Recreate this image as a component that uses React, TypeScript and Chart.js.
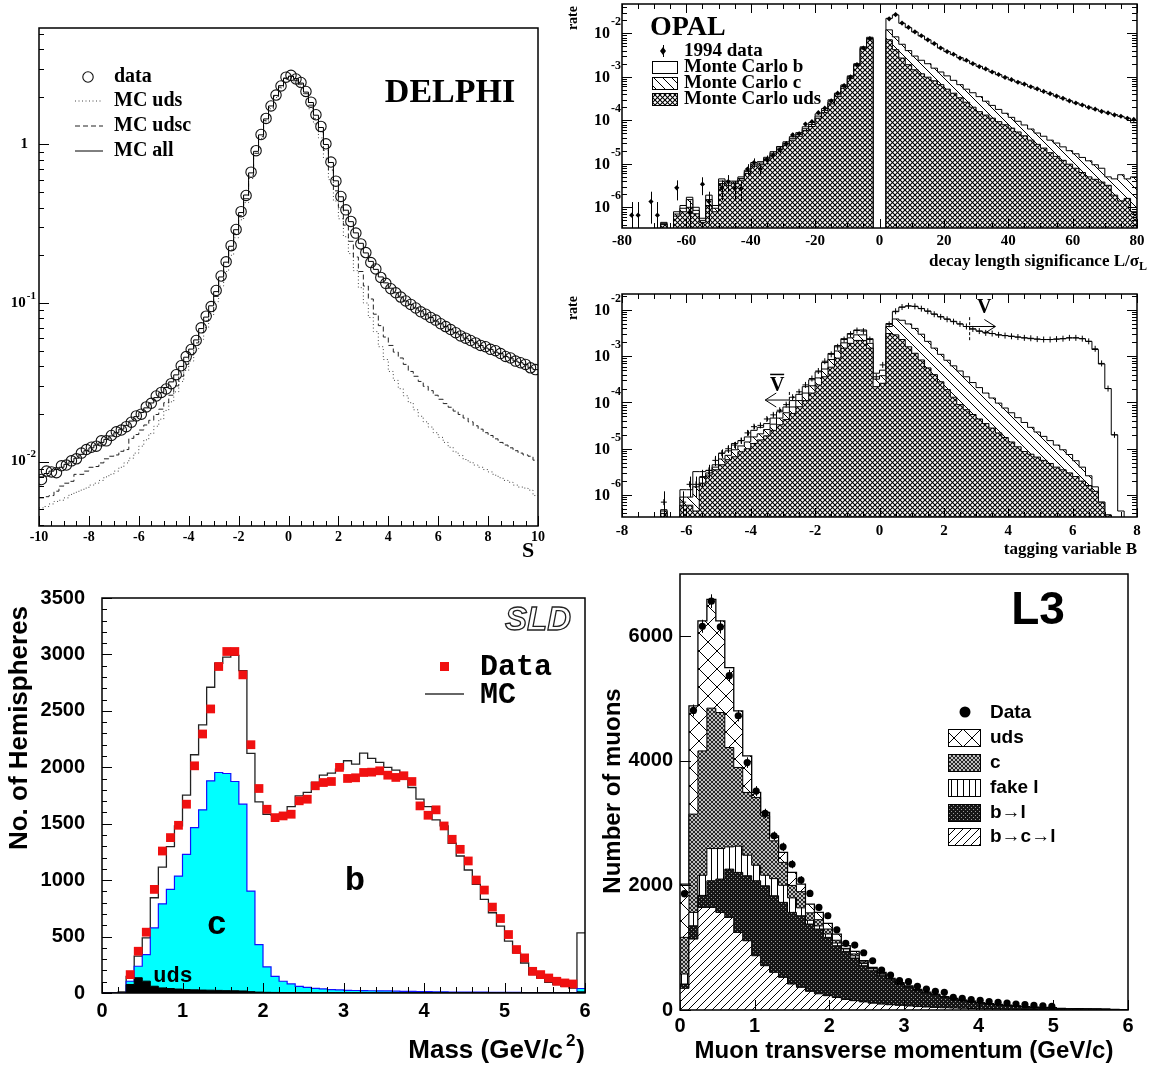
import React, { useEffect, useRef } from 'react';
import { Chart, registerables } from 'chart.js';

Chart.register(...registerables);

const SERIF = '"Liberation Serif", "DejaVu Serif", serif';
const SANS = '"Liberation Sans", Arial, sans-serif';
const MONO = '"Liberation Mono", "DejaVu Sans Mono", monospace';

// ---------------- DELPHI : impact parameter significance S ----------------
const delphiLo = -10;
const delphiBin = 0.2;
const delphiData = [
  0.0077, 0.0087, 0.0086, 0.0085, 0.0094, 0.0095, 0.0101, 0.0104, 0.0113, 0.0119,
  0.0123, 0.0125, 0.0135, 0.0135, 0.0146, 0.0154, 0.0158, 0.0166, 0.0177, 0.0194,
  0.0199, 0.0221, 0.0233, 0.0259, 0.0273, 0.0287, 0.031, 0.0353, 0.0402, 0.0459,
  0.0509, 0.058, 0.0697, 0.0826, 0.095, 0.12, 0.148, 0.182, 0.23, 0.291,
  0.377, 0.477, 0.669, 0.914, 1.156, 1.46, 1.75, 2.05, 2.34, 2.66,
  2.73, 2.59, 2.46, 2.16, 1.85, 1.54, 1.3, 1.01, 0.775, 0.587,
  0.47, 0.387, 0.327, 0.276, 0.236, 0.208, 0.18, 0.164, 0.145, 0.133,
  0.123, 0.116, 0.109, 0.103, 0.098, 0.093, 0.088, 0.085, 0.081, 0.078,
  0.074, 0.071, 0.068, 0.065, 0.062, 0.06, 0.058, 0.056, 0.054, 0.053,
  0.051, 0.05, 0.048, 0.046, 0.045, 0.043, 0.042, 0.041, 0.039, 0.038,
];
const delphiMcAll = [
  0.008, 0.0084, 0.0087, 0.0089, 0.0092, 0.0096, 0.01, 0.0105, 0.0111, 0.0117,
  0.0122, 0.0127, 0.0132, 0.0138, 0.0145, 0.0152, 0.016, 0.0169, 0.018, 0.0192,
  0.0204, 0.0218, 0.0234, 0.0253, 0.0272, 0.0293, 0.0318, 0.0352, 0.0398, 0.0455,
  0.0512, 0.0585, 0.069, 0.0815, 0.096, 0.118, 0.146, 0.181, 0.228, 0.29,
  0.372, 0.48, 0.662, 0.905, 1.15, 1.45, 1.75, 2.04, 2.35, 2.62,
  2.7, 2.61, 2.44, 2.14, 1.84, 1.53, 1.28, 1.0, 0.77, 0.59,
  0.468, 0.385, 0.326, 0.277, 0.238, 0.207, 0.183, 0.163, 0.146, 0.134,
  0.124, 0.116, 0.109, 0.103, 0.098, 0.093, 0.089, 0.085, 0.081, 0.077,
  0.074, 0.071, 0.068, 0.065, 0.063, 0.06, 0.058, 0.056, 0.054, 0.052,
  0.051, 0.049, 0.048, 0.046, 0.045, 0.043, 0.042, 0.041, 0.039, 0.038,
];
const delphiMcUdsc = [
  0.0059, 0.006, 0.0061, 0.0065, 0.007, 0.0073, 0.0075, 0.0083, 0.0083, 0.0087,
  0.0092, 0.0093, 0.0098, 0.0104, 0.0108, 0.011, 0.0116, 0.0119, 0.014, 0.0148,
  0.0158, 0.017, 0.0182, 0.0198, 0.0214, 0.0235, 0.0262, 0.03, 0.0345, 0.041,
  0.047, 0.056, 0.065, 0.077, 0.088, 0.11, 0.138, 0.17, 0.216, 0.275,
  0.356, 0.455, 0.64, 0.88, 1.12, 1.42, 1.71, 2.01, 2.3, 2.62,
  2.69, 2.54, 2.4, 2.09, 1.77, 1.45, 1.2, 0.92, 0.69, 0.51,
  0.4, 0.31, 0.245, 0.195, 0.158, 0.128, 0.106, 0.085, 0.072, 0.061,
  0.054, 0.049, 0.045, 0.041, 0.037, 0.0345, 0.032, 0.0298, 0.028, 0.0262,
  0.0247, 0.0232, 0.022, 0.0208, 0.0198, 0.0188, 0.0178, 0.0168, 0.016, 0.0152,
  0.0146, 0.0139, 0.0132, 0.0127, 0.0122, 0.0117, 0.0113, 0.011, 0.0108, 0.0102,
];
const delphiMcUds = [
  0.0051, 0.0052, 0.0054, 0.0056, 0.0057, 0.0059, 0.0062, 0.0064, 0.0066, 0.0068,
  0.0071, 0.0073, 0.0076, 0.008, 0.0083, 0.0087, 0.0092, 0.0098, 0.0105, 0.0113,
  0.0125, 0.0137, 0.015, 0.0167, 0.0185, 0.021, 0.0238, 0.0275, 0.032, 0.0375,
  0.043, 0.0505, 0.059, 0.07, 0.083, 0.102, 0.128, 0.158, 0.2, 0.258,
  0.335, 0.43, 0.61, 0.85, 1.09, 1.39, 1.68, 1.98, 2.27, 2.58,
  2.65, 2.48, 2.33, 2.01, 1.68, 1.35, 1.1, 0.82, 0.6, 0.44,
  0.34, 0.262, 0.205, 0.16, 0.125, 0.1, 0.081, 0.066, 0.053, 0.044,
  0.037, 0.0325, 0.0288, 0.026, 0.0235, 0.0212, 0.0193, 0.0178, 0.0165, 0.0152,
  0.0142, 0.0132, 0.0123, 0.0115, 0.0109, 0.0103, 0.0099, 0.0095, 0.0092, 0.0089,
  0.0086, 0.0082, 0.0079, 0.0076, 0.0074, 0.0071, 0.0069, 0.0068, 0.0066, 0.0061,
];
const delphiXTicks = [-10, -8, -6, -4, -2, 0, 2, 4, 6, 8, 10];
const delphiYDecades = [0, -1, -2];

// ---------------- OPAL : decay length significance L/sigma_L ----------------
const opalLLo = -80;
const opalLBin = 2;
// stacked tops: b + c + uds, c + uds, uds
const opalLTopB = [
  0, 0, 0, 0, 0, 0, 4.5e-7, 0, 7.9e-7, 1.1e-6,
  1.7e-6, 1.0e-6, 5.6e-7, 1.9e-6, 1.1e-6, 4.5e-6, 4.0e-6, 4.0e-6, 5.0e-6, 7.1e-6,
  1.07e-5, 1.12e-5, 1.41e-5, 1.9e-5, 2.5e-5, 3.2e-5, 4.2e-5, 5.2e-5, 7.1e-5, 8.9e-5,
  1.41e-4, 1.86e-4, 2.95e-4, 4.2e-4, 6.5e-4, 1.05e-3, 2.0e-3, 4.9e-3, 8.1e-3, 0,
  0, 0.0221, 0.0265, 0.017, 0.0135, 0.0107, 0.0087, 0.0071, 0.00575, 0.00457,
  0.0038, 0.00324, 0.00275, 0.00234, 0.002, 0.00174, 0.00151, 0.0013, 0.00112, 0.00098,
  0.00085, 0.00076, 0.00067, 0.00059, 0.00052, 0.00046, 0.00041, 0.00036, 0.00032, 0.00028,
  0.00025, 0.000224, 0.0002, 0.00018, 0.000162, 0.000148, 0.000135, 0.000123, 0.000112, 0.000088,
];
const opalLTopC = [
  0, 0, 0, 0, 0, 0, 4.2e-7, 0, 7.0e-7, 9.5e-7,
  1.5e-6, 8.5e-7, 5.0e-7, 1.5e-6, 9.5e-7, 4.0e-6, 3.6e-6, 3.8e-6, 4.6e-6, 6.6e-6,
  9.8e-6, 1.04e-5, 1.3e-5, 1.75e-5, 2.3e-5, 2.95e-5, 3.85e-5, 4.75e-5, 6.4e-5, 8.0e-5,
  1.25e-4, 1.67e-4, 2.65e-4, 3.85e-4, 6.0e-4, 9.8e-4, 1.9e-3, 4.65e-3, 7.6e-3, 0,
  0, 1.2e-2, 8.3e-3, 5.6e-3, 4.0e-3, 3.0e-3, 2.4e-3, 2.0e-3, 1.58e-3, 1.29e-3,
  1.05e-3, 8.3e-4, 6.6e-4, 5.2e-4, 4.3e-4, 3.5e-4, 2.75e-4, 2.2e-4, 1.78e-4, 1.45e-4,
  1.17e-4, 9.5e-5, 7.8e-5, 6.3e-5, 5.1e-5, 4.3e-5, 3.5e-5, 3.0e-5, 2.45e-5, 2.0e-5,
  1.7e-5, 1.4e-5, 1.17e-5, 9.5e-6, 7.9e-6, 5.0e-6, 4.5e-6, 5.6e-6, 4.5e-6, 5.0e-6,
];
const opalLTopUds = [
  0, 0, 0, 0, 0, 0, 4.0e-7, 0, 6.3e-7, 7.9e-7,
  1.0e-6, 7.1e-7, 4.5e-7, 1.1e-6, 7.9e-7, 3.5e-6, 3.2e-6, 3.5e-6, 4.2e-6, 6.0e-6,
  8.9e-6, 9.5e-6, 1.2e-5, 1.6e-5, 2.1e-5, 2.7e-5, 3.5e-5, 4.3e-5, 5.8e-5, 7.2e-5,
  1.12e-4, 1.5e-4, 2.4e-4, 3.5e-4, 5.5e-4, 9.1e-4, 1.8e-3, 4.4e-3, 7.1e-3, 0,
  0, 7.1e-3, 4.2e-3, 2.7e-3, 1.9e-3, 1.45e-3, 1.17e-3, 9.8e-4, 8.1e-4, 6.6e-4,
  5.2e-4, 4.2e-4, 3.3e-4, 2.6e-4, 2.0e-4, 1.58e-4, 1.32e-4, 1.12e-4, 9.3e-5, 7.9e-5,
  6.6e-5, 5.4e-5, 4.4e-5, 3.5e-5, 2.8e-5, 2.3e-5, 1.8e-5, 1.48e-5, 1.2e-5, 9.8e-6,
  7.9e-6, 6.3e-6, 5.0e-6, 4.4e-6, 3.8e-6, 3.2e-6, 1.9e-6, 1.4e-6, 1.6e-6, 7.9e-7,
];
const opalLData = [
  0, 6.6e-7, 6.6e-7, 0, 1.35e-6, 6.6e-7, 0, 0, 2.8e-6, 0,
  7.6e-7, 0, 3.4e-6, 1.35e-6, 0, 2.8e-6, 3.9e-6, 2.7e-6, 2.7e-6, 7.6e-6,
  1.07e-5, 7.6e-6, 1.26e-5, 1.58e-5, 2.1e-5, 2.9e-5, 4.6e-5, 4.9e-5, 8.2e-5, 9.3e-5,
  1.5e-4, 1.9e-4, 2.8e-4, 4.2e-4, 6.3e-4, 1.0e-3, 1.9e-3, 4.6e-3, 7.6e-3, 0,
  0, 0.0215, 0.027, 0.0172, 0.0137, 0.0108, 0.0088, 0.0071, 0.0058, 0.0046,
  0.0038, 0.0033, 0.0027, 0.0024, 0.002, 0.00172, 0.00152, 0.00129, 0.00113, 0.00097,
  0.00086, 0.00075, 0.00068, 0.00059, 0.00053, 0.00046, 0.00041, 0.00036, 0.00032, 0.00028,
  0.00025, 0.000225, 0.000198, 0.00018, 0.00016, 0.000148, 0.000133, 0.000124, 0.000111, 0.000105,
];
const opalLErr = [
  0, 6.6e-7, 6.6e-7, 0, 9.3e-7, 6.6e-7, 0, 0, 1.36e-6, 0,
  6.6e-7, 0, 1.5e-6, 9.3e-7, 0, 1.36e-6, 1.6e-6, 1.3e-6, 1.3e-6, 2.2e-6,
  2.6e-6, 2.2e-6, 2.9e-6, 3.2e-6, 3.7e-6, 4.4e-6, 5.5e-6, 5.7e-6, 7.4e-6, 7.8e-6,
  1.0e-5, 1.1e-5, 1.4e-5, 1.7e-5, 2.0e-5, 2.6e-5, 3.5e-5, 5.5e-5, 7.0e-5,
];
const opalLXTicks = [-80, -60, -40, -20, 0, 20, 40, 60, 80];
const opalDecades = [-2, -3, -4, -5, -6];

// ---------------- OPAL : tagging variable B ----------------
const opalBLo = -8;
const opalBBin = 0.2;
const opalBTopB = [
  0, 0, 0, 0, 0, 0, 4.8e-7, 0, 0, 1.3e-6,
  1.3e-6, 3.2e-6, 3.2e-6, 3.4e-6, 4.5e-6, 8e-6, 9e-6, 1.3e-5, 1.5e-5, 1.8e-5,
  2.5e-5, 2.9e-5, 3.5e-5, 4.6e-5, 6.3e-5, 8.0e-5, 1.1e-4, 1.5e-4, 2.2e-4, 3.1e-4,
  4.6e-4, 7.3e-4, 1.15e-3, 1.7e-3, 2.4e-3, 3.1e-3, 3.7e-3, 3.7e-3, 2.4e-3, 4.3e-4,
  5.0e-4, 5.1e-3, 9.2e-3, 1.15e-2, 1.22e-2, 1.2e-2, 1.08e-2, 9.5e-3, 8.2e-3, 7.2e-3,
  6.4e-3, 5.7e-3, 5.0e-3, 4.4e-3, 3.9e-3, 3.5e-3, 3.3e-3, 3.1e-3, 2.9e-3, 2.8e-3,
  2.7e-3, 2.6e-3, 2.5e-3, 2.4e-3, 2.35e-3, 2.3e-3, 2.3e-3, 2.35e-3, 2.4e-3, 2.5e-3,
  2.5e-3, 2.4e-3, 2.1e-3, 1.4e-3, 6.8e-4, 2.0e-4, 2.0e-5, 4.5e-7, 0, 0,
];
const opalBTopC = [
  0, 0, 0, 0, 0, 0, 4.5e-7, 0, 0, 9e-7,
  9e-7, 1.5e-6, 2.4e-6, 3.0e-6, 4.0e-6, 6.0e-6, 7.2e-6, 9.5e-6, 1.15e-5, 1.4e-5,
  1.8e-5, 2.1e-5, 2.6e-5, 3.4e-5, 4.6e-5, 6.0e-5, 8.0e-5, 1.1e-4, 1.6e-4, 2.3e-4,
  3.4e-4, 5.3e-4, 8.5e-4, 1.3e-3, 1.95e-3, 2.5e-3, 2.9e-3, 2.9e-3, 1.9e-3, 3.2e-4,
  3.8e-4, 4.4e-3, 6.4e-3, 6.0e-3, 5.0e-3, 4.0e-3, 3.0e-3, 2.1e-3, 1.5e-3, 1.1e-3,
  8.2e-4, 6.2e-4, 4.8e-4, 3.6e-4, 2.7e-4, 2.1e-4, 1.6e-4, 1.25e-4, 9.7e-5, 7.6e-5,
  6.0e-5, 4.7e-5, 3.7e-5, 2.9e-5, 2.3e-5, 1.85e-5, 1.5e-5, 1.2e-5, 9.5e-6, 7.5e-6,
  5.5e-6, 4.0e-6, 2.6e-6, 1.5e-6, 7e-7, 3.7e-7, 0, 0, 0, 0,
];
const opalBTopUds = [
  0, 0, 0, 0, 0, 0, 4.0e-7, 0, 0, 6e-7,
  6e-7, 4.5e-7, 1.8e-6, 2.7e-6, 3.5e-6, 4.5e-6, 5.8e-6, 6.7e-6, 8.6e-6, 1.0e-5,
  1.3e-5, 1.55e-5, 1.9e-5, 2.5e-5, 3.3e-5, 4.3e-5, 5.8e-5, 8.1e-5, 1.1e-4, 1.6e-4,
  2.4e-4, 3.6e-4, 5.8e-4, 9.1e-4, 1.5e-3, 1.9e-3, 2.2e-3, 2.2e-3, 1.5e-3, 2.2e-4,
  2.6e-4, 3.1e-3, 2.9e-3, 2.3e-3, 1.6e-3, 1.16e-3, 8.3e-4, 5.6e-4, 4.0e-4, 2.8e-4,
  1.9e-4, 1.3e-4, 9.0e-5, 7.0e-5, 5.5e-5, 4.4e-5, 3.5e-5, 2.8e-5, 2.2e-5, 1.75e-5,
  1.4e-5, 1.1e-5, 8.7e-6, 7.6e-6, 6.6e-6, 5.6e-6, 4.8e-6, 4.0e-6, 3.5e-6, 3.0e-6,
  2.5e-6, 2.0e-6, 1.6e-6, 1.2e-6, 7e-7, 3.7e-7, 0, 0, 0, 0,
];
const opalBData = [
  0, 0, 0, 0, 0, 0, 7e-7, 0, 0, 7e-7,
  1.7e-6, 1.7e-6, 2.5e-6, 3.4e-6, 5.6e-6, 8e-6, 1.0e-5, 1.2e-5, 1.5e-5, 2.2e-5,
  3.0e-5, 3.2e-5, 4.4e-5, 5.4e-5, 6.8e-5, 9.0e-5, 1.3e-4, 1.7e-4, 2.4e-4, 3.3e-4,
  4.8e-4, 7.8e-4, 1.1e-3, 1.6e-3, 2.3e-3, 3.0e-3, 3.6e-3, 3.5e-3, 2.3e-3, 3.6e-4,
  6.5e-4, 4.9e-3, 9.4e-3, 1.16e-2, 1.23e-2, 1.2e-2, 1.07e-2, 9.4e-3, 8.1e-3, 7.1e-3,
  6.3e-3, 5.6e-3, 5.0e-3, 4.4e-3, 3.9e-3, 3.5e-3, 3.2e-3, 3.1e-3, 2.9e-3, 2.8e-3,
  2.7e-3, 2.6e-3, 2.5e-3, 2.45e-3, 2.35e-3, 2.3e-3, 2.3e-3, 2.35e-3, 2.4e-3, 2.5e-3,
  2.5e-3, 2.4e-3, 2.1e-3, 1.45e-3, 7.0e-4, 2.0e-4, 2.0e-5, 0, 0, 0,
];
const opalBErr = [
  0, 0, 0, 0, 0, 0, 5e-7, 0, 0, 5e-7,
  8e-7, 8e-7, 1.0e-6, 1.1e-6, 1.4e-6, 1.7e-6, 1.9e-6, 2.1e-6, 2.3e-6, 2.8e-6,
  3.2e-6, 3.3e-6, 3.9e-6, 4.3e-6, 4.8e-6, 5.5e-6, 6.6e-6, 7.5e-6, 9e-6,
];
const opalBXTicks = [-8, -6, -4, -2, 0, 2, 4, 6, 8];
const opalVCut = 2.8;
const opalVbarCut = -2.8;

// ---------------- SLD : vertex mass ----------------
const sldLo = 0;
const sldBin = 0.1;
const sldMC = [
  0, 0, 10, 148, 326, 489, 844, 1116, 1297, 1480,
  1753, 2111, 2375, 2709, 2922, 2976, 2991, 2857, 2123, 1694,
  1584, 1575, 1584, 1652, 1747, 1777, 1865, 1931, 1948, 1984,
  2058, 2028, 2126, 2079, 2043, 1999, 1975, 1895, 1821, 1717,
  1652, 1534, 1480, 1327, 1214, 1090, 962, 829, 711, 592,
  459, 355, 266, 163, 133, 95, 74, 59, 44, 533,
];
const sldCharm = [
  0, 0, 0, 104, 237, 340, 577, 790, 918, 1036,
  1229, 1466, 1623, 1880, 1954, 1945, 1874, 1673, 903, 429,
  231, 148, 104, 80, 59, 50, 41, 36, 30, 27,
  24, 22, 21, 20, 19, 18, 16, 15, 14, 13,
  12, 11, 10, 9, 9, 8, 7, 7, 6, 6,
  5, 5, 4, 4, 4, 3, 3, 3, 3, 40,
];
const sldUds = [
  0, 0, 0, 75, 135, 105, 60, 45, 40, 35,
  30, 28, 26, 25, 23, 21, 20, 18, 12, 8,
  6, 5, 4, 4, 3, 3, 2, 2, 2, 2,
  2, 2, 2, 2, 2, 2, 2, 2, 2, 2,
  2, 2, 2, 2, 2, 2, 2, 2, 2, 2,
  2, 2, 2, 2, 2, 2, 2, 2, 2, 10,
];
const sldDataLo = 0.3;
const sldData = [
  163, 370, 539, 918, 1258, 1377, 1486, 1673, 2013, 2295,
  2517, 2893, 3026, 3026, 2819, 2200, 1812, 1628, 1554, 1569,
  1584, 1703, 1717, 1836, 1865, 1874, 1999, 1901, 1907, 1954,
  1957, 1969, 1930, 1910, 1925, 1874, 1658, 1575, 1623, 1480,
  1362, 1273, 1170, 1001, 912, 761, 660, 518, 385, 311,
  192, 163, 133, 104, 89, 80,
];
const sldYTicks = [0, 500, 1000, 1500, 2000, 2500, 3000, 3500];
const sldXTicks = [0, 1, 2, 3, 4, 5, 6];

// ---------------- L3 : muon transverse momentum ----------------
const l3Lo = 0;
const l3Bin = 0.12;
const l3TopUds = [
  2021, 4882, 6246, 6594, 6246, 5498, 4802, 4080, 3493, 3172,
  2797, 2530, 2209, 2021, 1701, 1567, 1391, 1219, 1032, 941,
  791, 684, 604, 508, 440, 385, 330, 285, 252, 216,
  188, 160, 142, 120, 103, 88, 77, 66, 55, 47,
  40, 36, 26, 23, 20, 18, 16, 14, 9, 7,
];
const l3TopC = [
  1166, 3145, 4160, 4846, 4776, 4214, 3894, 3493, 3413, 3117,
  2716, 2370, 2000, 1900, 1560, 1450, 1300, 1120, 990, 900,
  770, 670, 590, 500, 428, 378, 322, 281, 248, 212,
  184, 157, 139, 117, 100, 84, 74, 63, 52, 44,
  37, 33, 24, 21, 18, 16, 14, 12, 8, 6,
];
const l3TopFake = [
  578, 1567, 2163, 2592, 2592, 2619, 2630, 2485, 2324, 2163,
  2109, 2002, 1800, 1640, 1440, 1350, 1220, 1075, 980, 870,
  745, 660, 575, 492, 422, 374, 318, 277, 244, 208,
  181, 154, 137, 115, 98, 82, 72, 61, 50, 42,
  35, 31, 23, 20, 17, 15, 13, 11, 7, 5,
];
const l3TopBl = [
  417, 1352, 1840, 2075, 2102, 2262, 2209, 2155, 2075, 1994,
  1834, 1728, 1567, 1513, 1380, 1300, 1166, 1032, 941, 834,
  711, 631, 551, 471, 410, 364, 310, 270, 238, 203,
  177, 150, 134, 112, 96, 80, 70, 59, 48, 40,
  34, 30, 22, 19, 16, 14, 12, 11, 6, 5,
];
const l3TopBcl = [
  348, 1139, 1647, 1647, 1567, 1487, 1246, 1112, 871, 711,
  605, 524, 417, 364, 300, 260, 230, 200, 170, 150,
  130, 110, 95, 85, 75, 65, 55, 48, 42, 36,
  32, 28, 24, 20, 17, 15, 13, 11, 9, 8,
  7, 6, 5, 4, 4, 3, 3, 2, 2, 2,
];
const l3Data = [
  1868, 4809, 6161, 6564, 6150, 5367, 4723, 3972, 3515, 3156,
  2796, 2619, 2340, 2086, 1872, 1647, 1513, 1288, 1070, 1043,
  919, 791, 642, 562, 471, 455, 380, 337, 299, 283,
  203, 187, 166, 155, 134, 123, 112, 95, 85, 75,
  65, 60,
];
const l3Err = [
  60, 95, 105, 110, 105, 95, 90, 85, 80, 75,
  70, 68, 65, 62, 58, 55, 52, 48, 44, 43,
  40, 38, 34, 32, 30, 29, 27, 25, 23, 23,
  20, 19, 18, 17, 16, 15, 14, 13, 12, 12,
  11, 10,
];
const l3YTicks = [0, 2000, 4000, 6000];
const l3XTicks = [0, 1, 2, 3, 4, 5, 6];

// ---------------- helpers ----------------
type Ctx = CanvasRenderingContext2D;
type Area = { left: number; right: number; top: number; bottom: number };
type Decorate = (ctx: Ctx, a: Area, X: (v: number) => number, Y: (v: number) => number) => void;

function text(ctx: Ctx, s: string, x: number, y: number, font: string,
  align: CanvasTextAlign = 'left', baseline: CanvasTextBaseline = 'alphabetic', color = '#000') {
  ctx.save();
  ctx.font = font;
  ctx.textAlign = align;
  ctx.textBaseline = baseline;
  ctx.fillStyle = color;
  ctx.fillText(s, x, y);
  ctx.restore();
}

function vtext(ctx: Ctx, s: string, x: number, y: number, font: string, align: CanvasTextAlign) {
  ctx.save();
  ctx.translate(x, y);
  ctx.rotate(-Math.PI / 2);
  ctx.font = font;
  ctx.textAlign = align;
  ctx.textBaseline = 'middle';
  ctx.fillStyle = '#000';
  ctx.fillText(s, 0, 0);
  ctx.restore();
}

function widthOf(ctx: Ctx, s: string, font: string) {
  ctx.save();
  ctx.font = font;
  const w = ctx.measureText(s).width;
  ctx.restore();
  return w;
}

function powerLabel(ctx: Ctx, exp: number, xRight: number, y: number, mainFont: string, supFont: string, rise: number) {
  const sup = String(exp);
  const w = widthOf(ctx, sup, supFont);
  text(ctx, sup, xRight, y - rise, supFont, 'right', 'middle');
  text(ctx, '10', xRight - w - 1, y, mainFont, 'right', 'middle');
}

function line(ctx: Ctx, x0: number, y0: number, x1: number, y1: number, dash: number[] = [], lw = 1, color = '#000') {
  ctx.save();
  ctx.strokeStyle = color;
  ctx.lineWidth = lw;
  ctx.setLineDash(dash);
  ctx.beginPath();
  ctx.moveTo(x0, y0);
  ctx.lineTo(x1, y1);
  ctx.stroke();
  ctx.restore();
}

function linTicks(from: number, to: number, step: number, skip = 0) {
  const out: number[] = [];
  const n = Math.round((to - from) / step);
  for (let i = 0; i <= n; i++) {
    const v = +(from + i * step).toFixed(6);
    if (skip && Math.abs(v / skip - Math.round(v / skip)) < 1e-6) continue;
    out.push(v);
  }
  return out;
}

function logMinorTicks(min: number, max: number) {
  const out: number[] = [];
  for (let e = Math.floor(Math.log10(min)); e <= Math.ceil(Math.log10(max)); e++) {
    for (let m = 2; m <= 9; m++) {
      const v = m * Math.pow(10, e);
      if (v >= min && v <= max) out.push(v);
    }
  }
  return out;
}

function logMajorTicks(min: number, max: number) {
  const out: number[] = [];
  for (let e = Math.floor(Math.log10(min)); e <= Math.ceil(Math.log10(max)); e++) {
    const v = Math.pow(10, e);
    if (v >= min && v <= max) out.push(v);
  }
  return out;
}

// histogram outline as a stepped line through the bin edges
function stepLine(lo: number, w: number, vals: number[], floor: number, style: any) {
  const pts = vals.map((v, i) => ({ x: lo + i * w, y: v > 0 ? v : floor }));
  pts.push({ x: lo + vals.length * w, y: pts[pts.length - 1].y });
  return {
    type: 'line', data: pts, stepped: true, pointRadius: 0, borderWidth: 1,
    borderColor: '#000', fill: false, ...style,
  };
}

// measured points at bin centres, with optional vertical errors
function markers(lo: number, w: number, vals: number[], style: any, errs?: number[]) {
  const pts: { x: number; y: number }[] = [];
  const e: number[] = [];
  vals.forEach((v, i) => {
    if (v > 0) {
      pts.push({ x: lo + (i + 0.5) * w, y: v });
      e.push(errs ? errs[i] ?? 0 : 0);
    }
  });
  return { type: 'line', data: pts, showLine: false, errors: e, ...style };
}

const errorBars = {
  id: 'errorBars',
  afterDatasetsDraw(chart: any) {
    const { ctx, chartArea: a } = chart;
    const sx = chart.scales.x;
    const sy = chart.scales.y;
    ctx.save();
    ctx.beginPath();
    ctx.rect(a.left, a.top, a.right - a.left, a.bottom - a.top);
    ctx.clip();
    chart.data.datasets.forEach((ds: any) => {
      if (!ds.errors) return;
      ctx.strokeStyle = ds.errorColor || '#000';
      ctx.lineWidth = 1;
      ctx.beginPath();
      ds.data.forEach((p: any, i: number) => {
        const err = ds.errors[i];
        if (!err) return;
        const x = Math.round(sx.getPixelForValue(p.x)) + 0.5;
        const hi = sy.getPixelForValue(p.y + err);
        const lo = p.y - err > 0 ? sy.getPixelForValue(p.y - err) : a.bottom;
        ctx.moveTo(x, hi);
        ctx.lineTo(x, lo);
      });
      ctx.stroke();
    });
    ctx.restore();
  },
};

type TickSpec = { major: number[]; minor: number[]; majorLen: number; minorLen: number; mirror?: boolean };

// frame, inward ticks, then labels placed in page coordinates (origin = canvas offset on the page)
function framePlugin(xs: TickSpec, ys: TickSpec, lw: number, ox: number, oy: number, decorate: Decorate) {
  return {
    id: 'rootFrame',
    afterDraw(chart: any) {
      const { ctx, chartArea: a } = chart;
      const sx = chart.scales.x;
      const sy = chart.scales.y;
      ctx.save();
      ctx.strokeStyle = '#000';
      ctx.lineWidth = 1;
      ctx.beginPath();
      const put = (list: number[], len: number, isX: boolean) => {
        for (const v of list) {
          if (isX) {
            const p = Math.round(sx.getPixelForValue(v)) + 0.5;
            ctx.moveTo(p, a.bottom);
            ctx.lineTo(p, a.bottom - len);
            if (xs.mirror) { ctx.moveTo(p, a.top); ctx.lineTo(p, a.top + len); }
          } else {
            const p = Math.round(sy.getPixelForValue(v)) + 0.5;
            ctx.moveTo(a.left, p);
            ctx.lineTo(a.left + len, p);
            if (ys.mirror) { ctx.moveTo(a.right, p); ctx.lineTo(a.right - len, p); }
          }
        }
      };
      put(xs.major, xs.majorLen, true);
      put(xs.minor, xs.minorLen, true);
      put(ys.major, ys.majorLen, false);
      put(ys.minor, ys.minorLen, false);
      ctx.stroke();
      ctx.lineWidth = lw;
      ctx.strokeRect(a.left, a.top, a.right - a.left, a.bottom - a.top);
      ctx.restore();
      ctx.save();
      ctx.translate(-ox, -oy);
      const area = { left: a.left + ox, right: a.right + ox, top: a.top + oy, bottom: a.bottom + oy };
      decorate(ctx, area, (v) => sx.getPixelForValue(v) + ox, (v) => sy.getPixelForValue(v) + oy);
      ctx.restore();
    },
  };
}

function makePattern(size: number, draw: (g: Ctx, s: number) => void, bg = '#fff') {
  const c = document.createElement('canvas');
  c.width = size;
  c.height = size;
  const g = c.getContext('2d')!;
  g.fillStyle = bg;
  g.fillRect(0, 0, size, size);
  g.strokeStyle = '#000';
  g.lineWidth = 1;
  draw(g, size);
  return g.createPattern(c, 'repeat')!;
}

function diagDown(g: Ctx, s: number) {
  g.beginPath();
  g.moveTo(-1, -1); g.lineTo(s + 1, s + 1);
  g.moveTo(-1, s - 1); g.lineTo(1, s + 1);
  g.moveTo(s - 1, -1); g.lineTo(s + 1, 1);
  g.stroke();
}
function diagUp(g: Ctx, s: number) {
  g.beginPath();
  g.moveTo(-1, s + 1); g.lineTo(s + 1, -1);
  g.moveTo(-1, 1); g.lineTo(1, -1);
  g.moveTo(s - 1, s + 1); g.lineTo(s + 1, s - 1);
  g.stroke();
}

function patterns() {
  return {
    opalUds: makePattern(5, (g, s) => { g.lineWidth = 1.1; diagDown(g, s); diagUp(g, s); }),
    opalC: makePattern(9, (g, s) => { g.lineWidth = 1; diagDown(g, s); }),
    l3Uds: makePattern(18, (g, s) => { diagDown(g, s); diagUp(g, s); }),
    l3C: makePattern(4, (g, s) => { g.strokeStyle = '#222'; g.lineWidth = 1.1; diagDown(g, s); diagUp(g, s); }),
    l3Fake: makePattern(6, (g, s) => { g.beginPath(); g.moveTo(3.5, 0); g.lineTo(3.5, s); g.stroke(); }),
    l3Bl: makePattern(4, (g) => { g.fillStyle = '#9a9a9a'; g.fillRect(1, 1, 1, 1); g.fillRect(3, 3, 1, 1); }, '#161616'),
    l3Bcl: makePattern(8, (g, s) => { diagUp(g, s); }),
  };
}

function baseOptions(pad: any, x: any, y: any) {
  return {
    responsive: false,
    animation: false,
    events: [],
    layout: { padding: pad },
    plugins: { legend: { display: false }, tooltip: { enabled: false } },
    scales: { x: { ...x, display: false }, y: { ...y, display: false } },
  };
}

// ---------------- chart builders ----------------
const FLOOR = 1e-12;

function buildDelphi() {
  const yMin = 0.00392;
  const yMax = 5.43;
  const decorate: Decorate = (ctx, a, X, Y) => {
    for (const v of delphiXTicks) text(ctx, String(v), X(v), a.bottom + 11, `bold 14px ${SERIF}`, 'center', 'middle');
    text(ctx, 'S', 528, 551, `bold 22px ${SERIF}`, 'center', 'middle');
    for (const e of delphiYDecades) {
      const y = Y(Math.pow(10, e));
      if (e === 0) text(ctx, '1', 28, y, `bold 15px ${SERIF}`, 'right', 'middle');
      else powerLabel(ctx, e, 36, y, `bold 15px ${SERIF}`, `bold 11px ${SERIF}`, 7);
    }
    const lf = `bold 20px ${SERIF}`;
    ctx.save();
    ctx.strokeStyle = '#111';
    ctx.lineWidth = 1.1;
    ctx.beginPath();
    ctx.arc(88, 77, 5.2, 0, Math.PI * 2);
    ctx.stroke();
    ctx.restore();
    text(ctx, 'data', 114, 77, lf, 'left', 'middle');
    line(ctx, 75, 101, 103, 101, [1, 2.5], 1, '#444');
    text(ctx, 'MC uds', 114, 101, lf, 'left', 'middle');
    line(ctx, 75, 126, 103, 126, [5, 3], 1, '#222');
    text(ctx, 'MC udsc', 114, 126, lf, 'left', 'middle');
    line(ctx, 75, 151, 103, 151, [], 1, '#000');
    text(ctx, 'MC all', 114, 151, lf, 'left', 'middle');
    text(ctx, 'DELPHI', 450, 93, `bold 34px ${SERIF}`, 'center', 'middle');
  };
  return {
    type: 'line',
    data: {
      datasets: [
        markers(delphiLo, delphiBin, delphiData, {
          pointStyle: 'circle', pointRadius: 5.2, pointBorderWidth: 1.1,
          pointBorderColor: '#111', pointBackgroundColor: 'rgba(255,255,255,0)',
        }),
        stepLine(delphiLo, delphiBin, delphiMcAll, FLOOR, { borderColor: '#000', borderWidth: 1 }),
        stepLine(delphiLo, delphiBin, delphiMcUdsc, FLOOR, { borderColor: '#222', borderWidth: 1, borderDash: [5, 3] }),
        stepLine(delphiLo, delphiBin, delphiMcUds, FLOOR, { borderColor: '#444', borderWidth: 1, borderDash: [1, 2.5] }),
      ],
    },
    options: baseOptions({ left: 39, top: 28, right: 22, bottom: 39 },
      { type: 'linear', min: -10, max: 10 },
      { type: 'logarithmic', min: yMin, max: yMax }),
    plugins: [errorBars, framePlugin(
      { major: delphiXTicks, minor: linTicks(-10, 10, 0.5, 2), majorLen: 10, minorLen: 5 },
      { major: logMajorTicks(yMin, yMax), minor: logMinorTicks(yMin, yMax), majorLen: 10, minorLen: 5 },
      1.5, 0, 0, decorate)],
  };
}

function opalYLabels(ctx: Ctx, Y: (v: number) => number) {
  for (const e of opalDecades) {
    powerLabel(ctx, e, 621, Y(Math.pow(10, e)) + 1, `bold 16px ${SERIF}`, `bold 12px ${SERIF}`, 12);
  }
}

function buildOpalL() {
  const P = patterns();
  const yMin = 3.34e-7;
  const yMax = 0.0472;
  const decorate: Decorate = (ctx, a, X, Y) => {
    for (const v of opalLXTicks) text(ctx, String(v), X(v), a.bottom + 13, `bold 15px ${SERIF}`, 'center', 'middle');
    opalYLabels(ctx, Y);
    vtext(ctx, 'rate', 573, 6, `bold 14px ${SERIF}`, 'right');
    const sf = `bold 12px ${SERIF}`;
    const wl = widthOf(ctx, 'L', sf);
    text(ctx, 'L', 1147, 270, sf, 'right');
    text(ctx, 'decay length significance L/\u03c3', 1147 - wl, 266, `bold 17px ${SERIF}`, 'right');
    text(ctx, 'OPAL', 650, 35, `bold 28px ${SERIF}`, 'left');
    const lf = `bold 19px ${SERIF}`;
    ctx.save();
    ctx.fillStyle = '#000';
    ctx.beginPath();
    ctx.moveTo(663, 47); ctx.lineTo(666, 51); ctx.lineTo(663, 55); ctx.lineTo(660, 51);
    ctx.closePath();
    ctx.fill();
    ctx.restore();
    line(ctx, 663.5, 45, 663.5, 57);
    text(ctx, '1994 data', 684, 51, lf, 'left', 'middle');
    const boxes: [string, any, number][] = [
      ['Monte Carlo b', '#fff', 67], ['Monte Carlo c', P.opalC, 83], ['Monte Carlo uds', P.opalUds, 99],
    ];
    for (const [label, fill, y] of boxes) {
      ctx.save();
      ctx.fillStyle = fill;
      ctx.fillRect(652, y - 6, 25, 12);
      ctx.strokeStyle = '#000';
      ctx.lineWidth = 1;
      ctx.strokeRect(652.5, y - 5.5, 25, 12);
      ctx.restore();
      text(ctx, label, 684, y, lf, 'left', 'middle');
    }
  };
  return {
    type: 'line',
    data: {
      datasets: [
        markers(opalLLo, opalLBin, opalLData, {
          pointStyle: 'rectRot', pointRadius: 2.6, pointBackgroundColor: '#000', pointBorderColor: '#000', pointBorderWidth: 0,
        }, opalLErr),
        stepLine(opalLLo, opalLBin, opalLTopUds, FLOOR, { fill: 'start', backgroundColor: P.opalUds }),
        stepLine(opalLLo, opalLBin, opalLTopC, FLOOR, { fill: 'start', backgroundColor: P.opalC }),
        stepLine(opalLLo, opalLBin, opalLTopB, FLOOR, { fill: 'start', backgroundColor: '#fff' }),
      ],
    },
    options: baseOptions({ left: 62, top: 4, right: 12, bottom: 47 },
      { type: 'linear', min: -80, max: 80 },
      { type: 'logarithmic', min: yMin, max: yMax }),
    plugins: [errorBars, framePlugin(
      { major: opalLXTicks, minor: linTicks(-80, 80, 5, 20), majorLen: 9, minorLen: 5, mirror: true },
      { major: logMajorTicks(yMin, yMax), minor: logMinorTicks(yMin, yMax), majorLen: 10, minorLen: 5, mirror: true },
      1.5, 560, 0, decorate)],
  };
}

function buildOpalB() {
  const P = patterns();
  const yMin = 3.34e-7;
  const yMax = 0.0222;
  const decorate: Decorate = (ctx, a, X, Y) => {
    for (const v of opalBXTicks) text(ctx, String(v), X(v), a.bottom + 14, `bold 15px ${SERIF}`, 'center', 'middle');
    opalYLabels(ctx, Y);
    vtext(ctx, 'rate', 573, 296, `bold 14px ${SERIF}`, 'right');
    text(ctx, 'tagging variable B', 1137, 554, `bold 17px ${SERIF}`, 'right');
    // cut on the B side
    const x0 = X(opalVCut);
    const x1 = X(3.6);
    const yA = Y(4.4e-3);
    line(ctx, x0, Y(7e-3), x0, Y(2.2e-3), [3, 2]);
    line(ctx, x0, yA, x1, yA);
    line(ctx, x1 - 11, yA - 7, x1, yA);
    line(ctx, x1 - 11, yA + 7, x1, yA);
    text(ctx, 'V', X(3.25), Y(0.011), `bold 20px ${SERIF}`, 'center', 'middle');
    // anti-cut on the negative side
    const xb0 = X(opalVbarCut);
    const xb1 = X(-3.55);
    const yB = Y(1.13e-4);
    line(ctx, xb0, Y(1.69e-4), xb0, Y(7.6e-5), [3, 2]);
    line(ctx, xb0, yB, xb1, yB);
    line(ctx, xb1 + 11, yB - 7, xb1, yB);
    line(ctx, xb1 + 11, yB + 7, xb1, yB);
    const xv = X(-3.18);
    const yv = Y(2.28e-4);
    text(ctx, 'V', xv, yv, `bold 20px ${SERIF}`, 'center', 'middle');
    line(ctx, xv - 7, yv - 11.5, xv + 7, yv - 11.5, [], 1.5);
  };
  return {
    type: 'line',
    data: {
      datasets: [
        markers(opalBLo, opalBBin, opalBData, {
          pointStyle: 'cross', pointRadius: 3, pointBorderColor: '#000', pointBorderWidth: 1,
        }, opalBErr),
        stepLine(opalBLo, opalBBin, opalBTopUds, FLOOR, { fill: 'start', backgroundColor: P.opalUds }),
        stepLine(opalBLo, opalBBin, opalBTopC, FLOOR, { fill: 'start', backgroundColor: P.opalC }),
        stepLine(opalBLo, opalBBin, opalBTopB, FLOOR, { fill: 'start', backgroundColor: '#fff' }),
      ],
    },
    options: baseOptions({ left: 62, top: 14, right: 12, bottom: 43 },
      { type: 'linear', min: -8, max: 8 },
      { type: 'logarithmic', min: yMin, max: yMax }),
    plugins: [errorBars, framePlugin(
      { major: opalBXTicks, minor: linTicks(-8, 8, 0.5, 2), majorLen: 9, minorLen: 5, mirror: true },
      { major: logMajorTicks(yMin, yMax), minor: logMinorTicks(yMin, yMax), majorLen: 10, minorLen: 5, mirror: true },
      1.5, 560, 280, decorate)],
  };
}

function buildSld() {
  const decorate: Decorate = (ctx, a, X, Y) => {
    const tf = `bold 20px ${SANS}`;
    for (const v of sldYTicks) text(ctx, String(v), 85, Y(v), tf, 'right', 'middle');
    for (const v of sldXTicks) text(ctx, String(v), X(v), a.bottom + 18, tf, 'center', 'middle');
    vtext(ctx, 'No. of Hemispheres', 20, 728, `bold 26px ${SANS}`, 'center');
    const af = `bold 26px ${SANS}`;
    const sf = `bold 17px ${SANS}`;
    const wClose = widthOf(ctx, ')', af);
    const wTwo = widthOf(ctx, '2', sf);
    text(ctx, ')', 585, 1058, af, 'right');
    text(ctx, '2', 585 - wClose - 1, 1046, sf, 'right');
    text(ctx, 'Mass (GeV/c', 585 - wClose - wTwo - 4, 1058, af, 'right');
    ctx.save();
    ctx.font = `italic bold 33px ${SANS}`;
    ctx.textAlign = 'right';
    ctx.textBaseline = 'middle';
    ctx.lineWidth = 1.3;
    ctx.strokeStyle = '#222';
    ctx.strokeText('SLD', 571, 621);
    ctx.restore();
    ctx.save();
    ctx.fillStyle = '#f01010';
    ctx.fillRect(440, 662, 9, 9);
    ctx.restore();
    text(ctx, 'Data', 480, 667, `bold 30px ${MONO}`, 'left', 'middle');
    line(ctx, 425, 694, 464, 694, [], 1.5, '#333');
    text(ctx, 'MC', 480, 695, `bold 30px ${MONO}`, 'left', 'middle');
    text(ctx, 'b', 355, 881, `bold 34px ${MONO}`, 'center', 'middle');
    text(ctx, 'c', 217, 925, `bold 34px ${MONO}`, 'center', 'middle');
    text(ctx, 'uds', 173, 976, `bold 22px ${MONO}`, 'center', 'middle');
  };
  return {
    type: 'line',
    data: {
      datasets: [
        markers(sldDataLo, sldBin, sldData, {
          pointStyle: 'rect', pointRadius: 6.2, pointBackgroundColor: '#f01010', pointBorderColor: '#f01010', pointBorderWidth: 0,
        }),
        stepLine(sldLo, sldBin, sldUds, 0, { fill: 'origin', backgroundColor: '#000', borderColor: '#000' }),
        stepLine(sldLo, sldBin, sldCharm, 0, { fill: 'origin', backgroundColor: '#00ffff', borderColor: '#1010ff', borderWidth: 1.2 }),
        stepLine(sldLo, sldBin, sldMC, 0, { fill: false, borderColor: '#222', borderWidth: 1.3 }),
      ],
    },
    options: baseOptions({ left: 102, top: 28, right: 15, bottom: 75 },
      { type: 'linear', min: 0, max: 6 },
      { type: 'linear', min: 0, max: 3500 }),
    plugins: [errorBars, framePlugin(
      { major: sldXTicks, minor: linTicks(0, 6, 0.2, 1), majorLen: 10, minorLen: 6 },
      { major: sldYTicks, minor: linTicks(0, 3500, 100, 500), majorLen: 10, minorLen: 5 },
      1.5, 0, 570, decorate)],
  };
}

function buildL3() {
  const P = patterns();
  const decorate: Decorate = (ctx, a, X, Y) => {
    const tf = `bold 20px ${SANS}`;
    for (const v of l3YTicks) text(ctx, String(v), 673, Y(v), tf, 'right', 'middle');
    for (const v of l3XTicks) text(ctx, String(v), X(v), a.bottom + 16, tf, 'center', 'middle');
    text(ctx, 'Muon transverse momentum (GeV/c)', 904, 1051, `bold 24px ${SANS}`, 'center', 'middle');
    vtext(ctx, 'Number of muons', 613, 791, `bold 24px ${SANS}`, 'center');
    text(ctx, 'L3', 1038, 611, `bold 46px ${SANS}`, 'center', 'middle');
    const lf = `bold 19px ${SANS}`;
    ctx.save();
    ctx.fillStyle = '#000';
    ctx.beginPath();
    ctx.arc(965, 712, 5.5, 0, Math.PI * 2);
    ctx.fill();
    ctx.restore();
    text(ctx, 'Data', 990, 713, lf, 'left', 'middle');
    const rows: [string, any, number][] = [
      ['uds', P.l3Uds, 737], ['c', P.l3C, 762], ['fake l', P.l3Fake, 787],
      ['b\u2192l', P.l3Bl, 812], ['b\u2192c\u2192l', P.l3Bcl, 836],
    ];
    for (const [label, fill, y] of rows) {
      ctx.save();
      ctx.fillStyle = fill;
      ctx.fillRect(948, y - 8, 32, 17);
      ctx.strokeStyle = '#000';
      ctx.lineWidth = 1;
      ctx.strokeRect(948.5, y - 7.5, 32, 17);
      ctx.restore();
      text(ctx, label, 990, y + 1, lf, 'left', 'middle');
    }
  };
  return {
    type: 'line',
    data: {
      datasets: [
        markers(l3Lo, l3Bin, l3Data, {
          pointStyle: 'circle', pointRadius: 3.6, pointBackgroundColor: '#000', pointBorderColor: '#000', pointBorderWidth: 0,
        }, l3Err),
        stepLine(l3Lo, l3Bin, l3TopBcl, 0, { fill: 'origin', backgroundColor: P.l3Bcl }),
        stepLine(l3Lo, l3Bin, l3TopBl, 0, { fill: 'origin', backgroundColor: P.l3Bl }),
        stepLine(l3Lo, l3Bin, l3TopFake, 0, { fill: 'origin', backgroundColor: P.l3Fake }),
        stepLine(l3Lo, l3Bin, l3TopC, 0, { fill: 'origin', backgroundColor: P.l3C }),
        stepLine(l3Lo, l3Bin, l3TopUds, 0, { fill: 'origin', backgroundColor: P.l3Uds, borderWidth: 1.3 }),
      ],
    },
    options: baseOptions({ left: 80, top: 4, right: 21, bottom: 58 },
      { type: 'linear', min: 0, max: 6 },
      { type: 'linear', min: 0, max: 7000 }),
    plugins: [errorBars, framePlugin(
      { major: l3XTicks, minor: [], majorLen: 10, minorLen: 0 },
      { major: l3YTicks, minor: [], majorLen: 11, minorLen: 0 },
      1.5, 600, 570, decorate)],
  };
}

function Panel(props: { left: number; top: number; width: number; height: number; build: () => any }) {
  const ref = useRef<HTMLCanvasElement>(null);
  useEffect(() => {
    const chart = new Chart(ref.current as HTMLCanvasElement, props.build());
    return () => chart.destroy();
  }, []);
  return (
    <canvas
      ref={ref}
      width={props.width}
      height={props.height}
      style={{ position: 'absolute', left: props.left, top: props.top, width: props.width, height: props.height }}
    />
  );
}

export default function App() {
  return (
    <div style={{ position: 'absolute', left: 0, top: 0, width: 1149, height: 1068, background: '#fff', overflow: 'hidden' }}>
      <Panel left={0} top={0} width={560} height={565} build={buildDelphi} />
      <Panel left={560} top={0} width={589} height={275} build={buildOpalL} />
      <Panel left={560} top={280} width={589} height={280} build={buildOpalB} />
      <Panel left={0} top={570} width={600} height={498} build={buildSld} />
      <Panel left={600} top={570} width={549} height={498} build={buildL3} />
    </div>
  );
}
